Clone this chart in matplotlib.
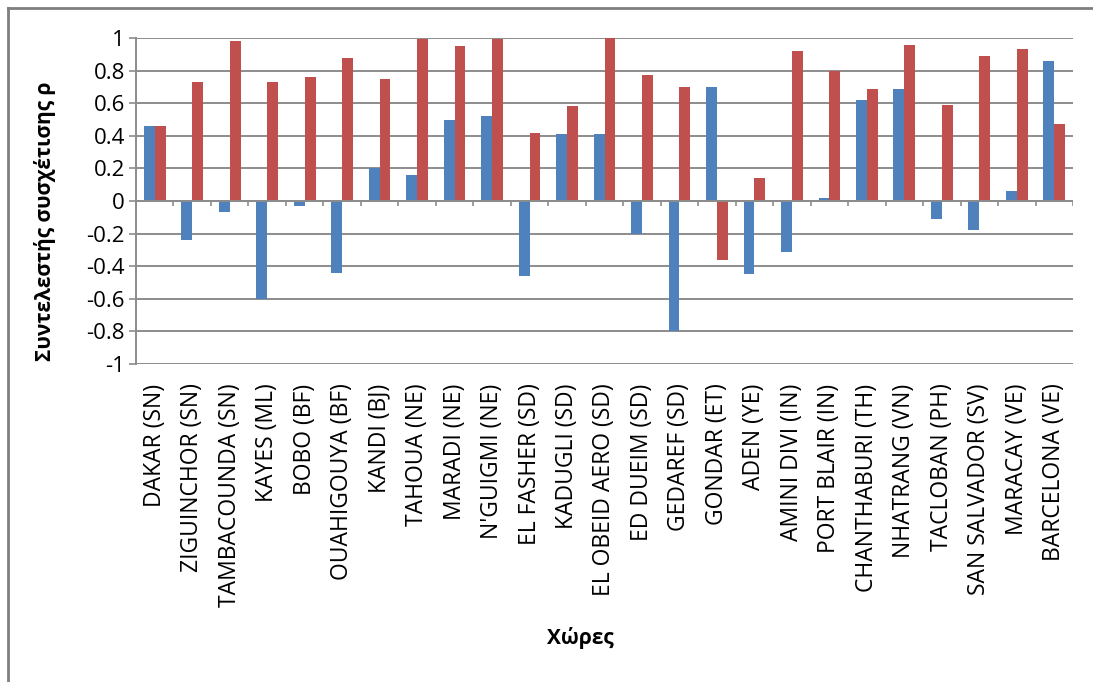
import numpy as np
import matplotlib
matplotlib.use("Agg")
import matplotlib.pyplot as plt
from matplotlib.lines import Line2D

# ---- data ----------------------------------------------------------------
stations = ["DAKAR (SN)", "ZIGUINCHOR (SN)", "TAMBACOUNDA (SN)", "KAYES (ML)",
            "BOBO (BF)", "OUAHIGOUYA (BF)", "KANDI (BJ)", "TAHOUA (NE)",
            "MARADI (NE)", "N'GUIGMI (NE)", "EL FASHER (SD)", "KADUGLI (SD)",
            "EL OBEID AERO (SD)", "ED DUEIM (SD)", "GEDAREF (SD)", "GONDAR (ET)",
            "ADEN (YE)", "AMINI DIVI (IN)", "PORT BLAIR (IN)", "CHANTHABURI (TH)",
            "NHATRANG (VN)", "TACLOBAN (PH)", "SAN SALVADOR (SV)", "MARACAY (VE)",
            "BARCELONA (VE)"]
rho_blue = [0.46, -0.24, -0.07, -0.60, -0.03, -0.44, 0.20, 0.16, 0.50, 0.52,
            -0.46, 0.41, 0.41, -0.20, -0.80, 0.70, -0.45, -0.31, 0.02, 0.62,
            0.69, -0.11, -0.18, 0.06, 0.86]
rho_red = [0.46, 0.73, 0.98, 0.73, 0.76, 0.88, 0.75, 0.995, 0.95, 0.995,
           0.42, 0.58, 1.0, 0.77, 0.70, -0.36, 0.14, 0.92, 0.80, 0.69,
           0.96, 0.59, 0.89, 0.93, 0.47]
yticks = [-1, -0.8, -0.6, -0.4, -0.2, 0, 0.2, 0.4, 0.6, 0.8, 1]
ytick_labels = ["-1", "-0.8", "-0.6", "-0.4", "-0.2", "0", "0.2", "0.4", "0.6", "0.8", "1"]

BLUE = "#4F81BD"
RED = "#C0504D"
GRID = "#8C8C8C"

plt.rcParams["font.family"] = ["Open Sans", "DejaVu Sans"]

fig = plt.figure(figsize=(10.93, 6.82), dpi=100)
ax = fig.add_axes([136/1093, 1-364/682, (1073-136)/1093, (364-38)/682])

n = len(stations)
x = np.arange(n)
w = 0.29
ax.bar(x - w/2, rho_blue, width=w, color=BLUE, zorder=3)
ax.bar(x + w/2, rho_red, width=w, color=RED, zorder=3)

ax.set_xlim(-0.5, n - 0.5)
ax.set_ylim(-1, 1)
ax.set_yticks(yticks)
ax.set_yticklabels(ytick_labels, fontsize=16)
ax.set_xticks(x)
ax.set_xticklabels(stations, rotation=90, fontsize=16.5)
ax.tick_params(axis="x", length=0, pad=14)
ax.tick_params(axis="y", length=5, color=GRID, width=1.2, pad=3)

for yv in yticks:
    ax.axhline(yv, color=GRID, lw=1.4, zorder=1)
# category axis at zero with boundary tick marks
ax.axhline(0, color=GRID, lw=1.4, zorder=4)
ax.vlines(np.arange(n + 1) - 0.5, -0.03, 0, color=GRID, lw=1.2, zorder=4)

for s in ["top", "right", "bottom"]:
    ax.spines[s].set_visible(False)
ax.spines["left"].set_color(GRID)
ax.spines["left"].set_linewidth(1.4)

fig.text(45/1093, 1-221/682, "Συντελεστής συσχέτισης ρ", rotation=90,
         ha="center", va="center", fontsize=15, fontweight="bold")
fig.text(580/1093, 1-638/682, "Χώρες", ha="center", va="center",
         fontsize=15, fontweight="bold")

# outer chart border (only top and left visible in the reference)
fig.add_artist(Line2D([8/1093, 8/1093], [0, 1-8/682], transform=fig.transFigure,
                      color="#7F7F7F", lw=2))
fig.add_artist(Line2D([8/1093, 1], [1-8/682, 1-8/682], transform=fig.transFigure,
                      color="#7F7F7F", lw=2))

fig.savefig("out.png", dpi=100)
